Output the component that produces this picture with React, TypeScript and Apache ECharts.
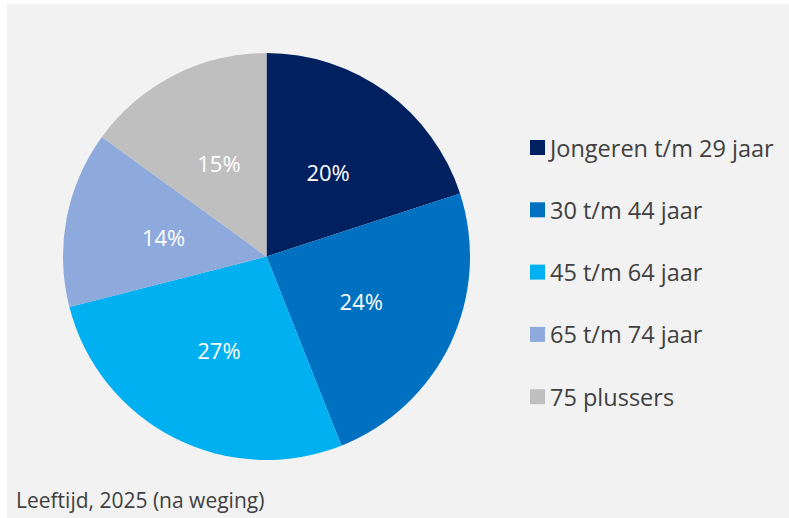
import React, { useEffect, useRef } from "react";
import * as echarts from "echarts";

const categories = [
  "Jongeren t/m 29 jaar",
  "30 t/m 44 jaar",
  "45 t/m 64 jaar",
  "65 t/m 74 jaar",
  "75 plussers",
];
const values = [20, 24, 27, 14, 15];
const colors = ["#002060", "#0070C0", "#00B0F0", "#8EA9DB", "#BFBFBF"];
const footer = "Leeftijd, 2025 (na weging)";

export default function App() {
  const ref = useRef<HTMLDivElement>(null);
  useEffect(() => {
    if (!ref.current) return;
    const chart = echarts.init(ref.current, null, { renderer: "svg" });
    chart.setOption({
      animation: false,
      backgroundColor: "#F2F2F2",
      color: colors,
      legend: {
        orient: "vertical",
        left: 518,
        top: 126.5,
        icon: "rect",
        itemWidth: 15,
        itemHeight: 15,
        itemGap: 38.3,
        textStyle: { fontSize: 23.5, color: "#404040", fontFamily: "Open Sans" },
        data: categories,
      },
      graphic: [
        {
          type: "text",
          left: 9,
          top: 485,
          style: {
            text: footer,
            fontSize: 21,
            fill: "#404040",
            fontFamily: "Open Sans",
          },
        },
      ],
      series: [
        {
          type: "pie",
          center: [259.5, 252.5],
          radius: 203.5,
          startAngle: 90,
          clockwise: true,
          label: {
            show: true,
            position: "inside",
            formatter: "{c}%",
            color: "#FFFFFF",
            fontSize: 22,
            fontFamily: "Open Sans",
          },
          labelLine: { show: false },
          emphasis: { disabled: true },
          data: categories.map((name, i) => ({ name, value: values[i] })),
        },
      ],
    });
    return () => chart.dispose();
  }, []);
  return (
    <div
      ref={ref}
      style={{ position: "absolute", left: 7, top: 4, width: 782, height: 514 }}
    />
  );
}
